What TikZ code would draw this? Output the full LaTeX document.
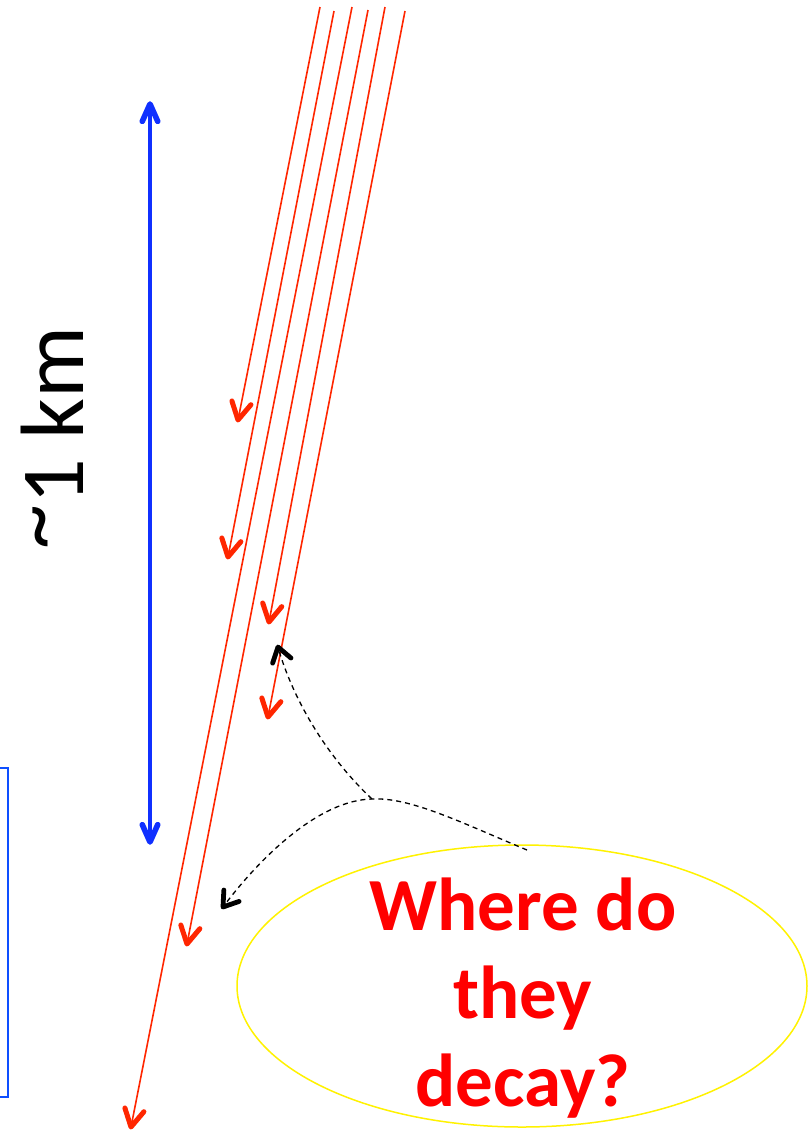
\documentclass[tikz,border=0pt]{standalone}
\usepackage{fontspec}
\setmainfont{Carlito}
\usetikzlibrary{calc,shapes.geometric}
\definecolor{muonred}{RGB}{255,38,0}
\definecolor{spanblue}{RGB}{16,48,255}
\newcommand{\vtip}[5]{\draw[#1, line cap=round, line join=round] ($(#2)!#4!#5:(#3)$) -- (#2) -- ($(#2)!#4!-#5:(#3)$);}
\begin{document}
\begin{tikzpicture}[x=1pt, y=-1pt,
  muon/.style={muonred, line width=1.6pt},
  span/.style={spanblue, line width=4pt},
  hint/.style={black, line width=1.3pt, dash pattern=on 5pt off 4pt}]
  \useasboundingbox (0, 0) rectangle (809, 1133);
  \fill[white] (0, 0) rectangle (809, 1133);
  \draw[spanblue!85!cyan, line width=1.8pt] (-20, 768) rectangle (8, 1097);
  \foreach \i/\xa/\ya/\xb/\yb in {1/320/7/238/420, 2/334/11/228/557, 3/352/7/131/1127,
                                  4/368/10/187/944, 5/385/7/269/622, 6/405/11/268/717} {
    \coordinate (s\i) at (\xa, \ya);
    \coordinate (e\i) at (\xb, \yb);
    \draw[muon] (s\i) -- (e\i);
    \vtip{muonred, line width=5pt}{e\i}{s\i}{20pt}{29}
  }
  \coordinate (kmtop) at (150, 104);
  \coordinate (kmbot) at (150, 842);
  \draw[span] (kmtop) -- (kmbot);
  \vtip{spanblue, line width=5.6pt}{kmtop}{kmbot}{19pt}{24}
  \vtip{spanblue, line width=5.6pt}{kmbot}{kmtop}{19pt}{24}
  \node[rotate=90, anchor=base, font=\fontsize{90}{90}\selectfont] (dist) at (83, 438) {\raisebox{0.2em}{\textasciitilde}1 km};
  \node[ellipse, draw=yellow, line width=1.5pt, minimum width=570pt, minimum height=282pt] (bubble) at (522, 986) {};
  \node[align=center, text=red, font=\bfseries\fontsize{75}{88}\selectfont] (ask) at (523, 998) {Where do\\they\\decay?};
  \coordinate (src) at (527, 850);
  \coordinate (fork) at (372, 799);
  \coordinate (tipa) at (223, 907);
  \coordinate (tipb) at (278, 647);
  \coordinate (ca) at (262, 855);
  \coordinate (cb) at (290, 690);
  \draw[hint] (src) .. controls (460, 822) and (410, 797) .. (fork) .. controls (320, 800) and (ca) .. (tipa);
  \draw[hint] (fork) .. controls (320, 750) and (cb) .. (tipb);
  \vtip{black, line width=4.8pt}{tipa}{ca}{17pt}{34}
  \vtip{black, line width=4.8pt}{tipb}{cb}{17pt}{34}
\end{tikzpicture}
\end{document}
